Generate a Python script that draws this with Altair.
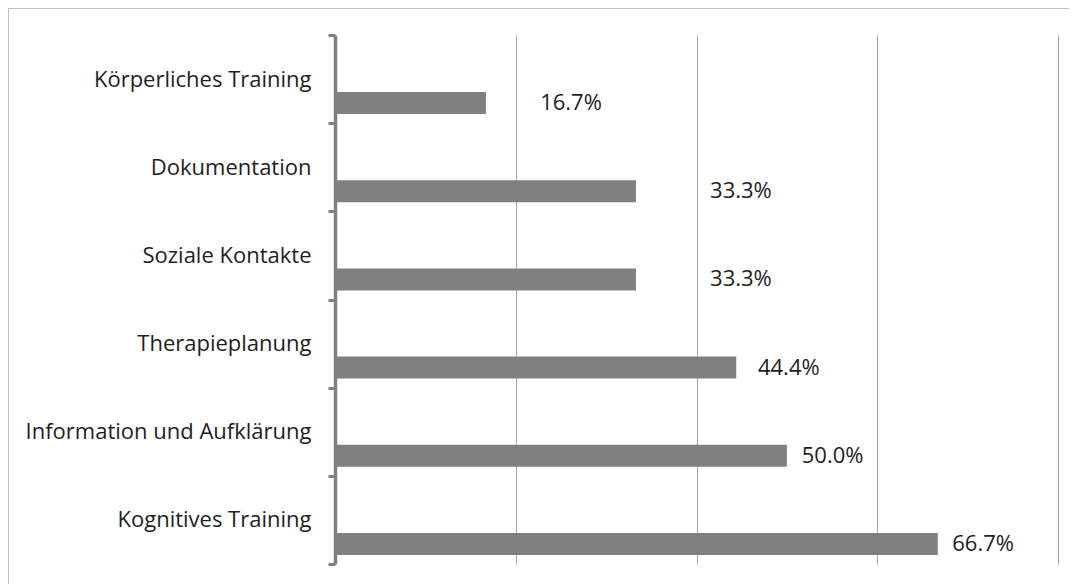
import altair as alt
import pandas as pd

categories = ["Körperliches Training", "Dokumentation", "Soziale Kontakte\u00a0",
              "Therapieplanung", "Information und Aufklärung", "Kognitives Training"]
values = [16.7, 33.3, 33.3, 44.4, 50.0, 66.7]
value_labels = ["16.7%", "33.3%", "33.3%", "44.4%", "50.0%", "66.7%"]
# where each value label sits beyond its bar end (percentage points)
label_gap = [6.0, 8.2, 8.2, 2.4, 1.65, 1.6]

df = pd.DataFrame({"Kategorie": categories, "Anteil": values,
                   "Label": value_labels, "Gap": label_gap})
df["LabelX"] = df["Anteil"] + df["Gap"]

W, H = 723, 529
FONT = "Open Sans"
FS = 22
x_scale = alt.Scale(domain=[0, 80], nice=False, zero=True)
y_scale = alt.Scale(paddingInner=0, paddingOuter=0)

bars = alt.Chart(df).mark_bar(color="#808080", height=22, yOffset=24).encode(
    x=alt.X("Anteil:Q", scale=x_scale,
            axis=alt.Axis(title=None, labels=False, ticks=False, domain=False,
                          grid=True, values=[20, 40, 60, 80],
                          gridColor="#a6a6a6", gridWidth=1)),
    y=alt.Y("Kategorie:N", sort=categories, scale=y_scale,
            axis=alt.Axis(title=None, domainColor="#808080", domainWidth=3.5,
                          tickColor="#808080", tickWidth=3, tickSize=7,
                          tickBand="extent", labelPadding=17, labelFont=FONT,
                          labelFontSize=FS, labelColor="#1e1e1e", grid=False,
                          labelLimit=400, zindex=1)),
)

texts = alt.Chart(df).mark_text(align="left", baseline="middle", yOffset=24,
                                font=FONT, fontSize=FS, color="#1e1e1e").encode(
    x=alt.X("LabelX:Q", scale=x_scale),
    y=alt.Y("Kategorie:N", sort=categories, scale=y_scale),
    text="Label:N",
)

frame = pd.DataFrame({"a": [0]})
border_top = alt.Chart(frame).mark_rule(color="#c0c0c0", strokeWidth=1).encode(
    x=alt.value(-327), x2=alt.value(W + 30), y=alt.value(-26.5))
border_left = alt.Chart(frame).mark_rule(color="#c0c0c0", strokeWidth=1).encode(
    x=alt.value(-326.5), y=alt.value(-27), y2=alt.value(H + 40))

chart = alt.layer(bars, texts, border_top, border_left).properties(
    width=W, height=H,
    padding={"left": 327, "top": 27, "right": 11, "bottom": 20},
    autosize=alt.AutoSizeParams(type="none"),
    background="white",
).configure_view(stroke=None)

chart.save("out.html", embed_options={"renderer": "svg", "actions": False})
